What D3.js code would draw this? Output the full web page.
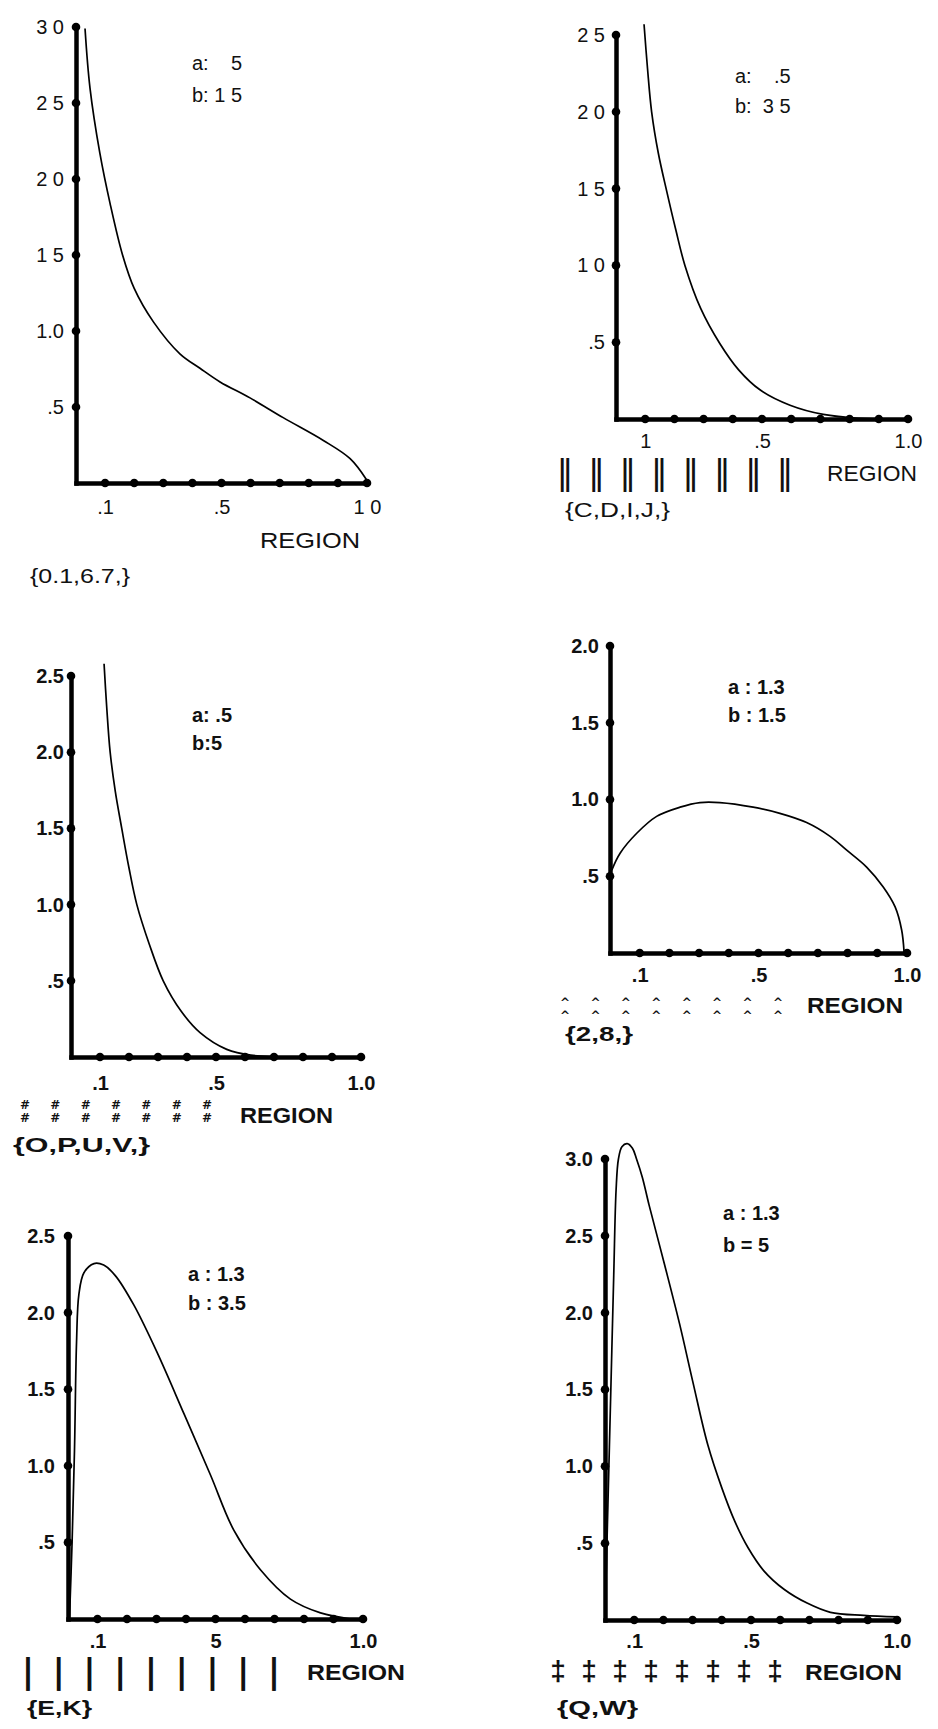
<!DOCTYPE html>
<html><head><meta charset="utf-8">
<script src="https://cdn.jsdelivr.net/npm/d3@7"></script>
<style>
html,body{margin:0;padding:0;background:#fff;}
svg{display:block;}
text{font-family:"Liberation Sans",Arial,Helvetica,sans-serif;fill:#111;white-space:pre;}
</style></head><body>
<svg id="chart" width="938" height="1729"></svg>
<script>
// ---------- data ----------
const dotValues = [0.1,0.2,0.3,0.4,0.5,0.6,0.7,0.8,0.9,1.0];
const xTickValues = [0.1,0.5,1.0];
const regionLabel = "REGION";

// panel 1 : a=.5 b=1.5
const params1 = ["a:    5","b: 1 5"];
const yTicks1 = [0.5,1.0,1.5,2.0,2.5,3.0];
const yLabels1 = [".5","1.0","1 5","2 0","2 5","3 0"];
const xLabels1 = [".1",".5","1 0"];
const set1 = "{0.1,6.7,}";
const curve1 = [[0.031,2.99],[0.048,2.60],[0.082,2.17],[0.117,1.84],[0.160,1.50],[0.200,1.28],[0.266,1.06],[0.357,0.85],[0.426,0.755],[0.495,0.665],[0.598,0.56],[0.712,0.43],[0.85,0.28],[0.942,0.16],[0.999,0.02]];

// panel 2 : a=.5 b=3.5
const params2 = ["a:    .5","b:  3 5"];
const yTicks2 = [0.5,1.0,1.5,2.0,2.5];
const yLabels2 = [".5","1 0","1 5","2 0","2 5"];
const xLabels2 = ["1",".5","1.0"];
const set2 = "{C,D,I,J,}";
const marker2 = "\u2016";
const curve2 = [[0.096,2.57],[0.108,2.28],[0.122,2.0],[0.145,1.73],[0.174,1.48],[0.205,1.23],[0.236,1.0],[0.29,0.72],[0.356,0.49],[0.42,0.32],[0.493,0.19],[0.596,0.09],[0.71,0.03],[0.83,0.005],[0.95,0.0]];

// panel 3 : a=.5 b=5
const params3 = ["a: .5","b:5"];
const yTicks3 = [0.5,1.0,1.5,2.0,2.5];
const yLabels3 = [".5","1.0","1.5","2.0","2.5"];
const xLabels3 = [".1",".5","1.0"];
const set3 = "{O,P,U,V,}";
const marker3 = "#";
const curve3 = [[0.114,2.58],[0.123,2.3],[0.135,2.0],[0.153,1.74],[0.175,1.5],[0.2,1.24],[0.227,1.0],[0.27,0.74],[0.318,0.5],[0.38,0.3],[0.445,0.16],[0.537,0.05],[0.62,0.012],[0.8,0.0],[0.95,0.0]];

// panel 4 : a=1.3 b=1.5
const params4 = ["a : 1.3","b : 1.5"];
const yTicks4 = [0.5,1.0,1.5,2.0];
const yLabels4 = [".5","1.0","1.5","2.0"];
const xLabels4 = [".1",".5","1.0"];
const set4 = "{2,8,}";
const marker4 = "^";
const curve4 = [[0.006,0.54],[0.034,0.65],[0.09,0.78],[0.157,0.89],[0.236,0.95],[0.303,0.98],[0.37,0.98],[0.482,0.95],[0.572,0.91],[0.662,0.85],[0.741,0.76],[0.797,0.67],[0.864,0.56],[0.92,0.43],[0.96,0.30],[0.982,0.15],[0.99,0.01]];

// panel 5 : a=1.3 b=3.5
const params5 = ["a : 1.3","b : 3.5"];
const yTicks5 = [0.5,1.0,1.5,2.0,2.5];
const yLabels5 = [".5","1.0","1.5","2.0","2.5"];
const xLabels5 = [".1","5","1.0"];
const set5 = "{E,K}";
const marker5 = "|";
const curve5 = [[0.005,0.0],[0.014,0.51],[0.022,1.10],[0.029,1.81],[0.037,2.12],[0.054,2.26],[0.088,2.32],[0.121,2.31],[0.161,2.24],[0.223,2.05],[0.302,1.74],[0.393,1.34],[0.483,0.94],[0.562,0.58],[0.653,0.32],[0.754,0.13],[0.856,0.04],[0.958,0.0]];

// panel 6 : a=1.3 b=5
const params6 = ["a : 1.3","b = 5"];
const yTicks6 = [0.5,1.0,1.5,2.0,2.5,3.0];
const yLabels6 = [".5","1.0","1.5","2.0","2.5","3.0"];
const xLabels6 = [".1",".5","1.0"];
const set6 = "{Q,W}";
const marker6 = "\u2021";
const curve6 = [[0.0,0.0],[0.01,0.75],[0.02,1.5],[0.03,2.25],[0.038,2.8],[0.046,3.0],[0.058,3.08],[0.076,3.10],[0.094,3.07],[0.108,3.0],[0.128,2.88],[0.151,2.70],[0.203,2.32],[0.255,1.93],[0.302,1.54],[0.352,1.14],[0.40,0.86],[0.445,0.64],[0.49,0.47],[0.544,0.32],[0.613,0.20],[0.692,0.11],[0.772,0.05],[0.886,0.03],[1.0,0.02]];

// ---------- layout ----------
const panels = [
 {curve:curve1,yTicks:yTicks1,yLabels:yLabels1,xLabels:xLabels1,params:params1,set:set1,
  x0:76,x1:367,y0:483,yTop:27,yMax:3.0,bold:false,yPad:12,xPad:17,
  ab:[192,63,95],region:[260,360,540],setPos:[30,130,576],marker:null},
 {curve:curve2,yTicks:yTicks2,yLabels:yLabels2,xLabels:xLabels2,params:params2,set:set2,
  x0:616,x1:908,y0:419,yTop:35,yMax:2.5,bold:false,yPad:11,xPad:15,
  ab:[735,76,106],region:[827,917,473],setPos:[565,670,510],
  marker:{glyph:marker2,n:8,from:565,to:785,rows:[473],size:34,dy:11,font:"DejaVu Sans",weight:"normal"}},
 {curve:curve3,yTicks:yTicks3,yLabels:yLabels3,xLabels:xLabels3,params:params3,set:set3,
  x0:71,x1:361,y0:1057,yTop:676,yMax:2.5,bold:true,yPad:7,xPad:19,
  ab:[192,715,743],region:[240,333,1115],setPos:[13,150,1145],
  marker:{glyph:marker3,n:7,from:25,to:207,rows:[1105,1118],size:12,dy:4,font:"DejaVu Sans",weight:"bold"}},
 {curve:curve4,yTicks:yTicks4,yLabels:yLabels4,xLabels:xLabels4,params:params4,set:set4,
  x0:610,x1:907,y0:953,yTop:646,yMax:2.0,bold:true,yPad:11,xPad:15,
  ab:[728,687,715],region:[807,903,1005],setPos:[565,633,1034],
  marker:{glyph:marker4,n:8,from:565,to:778,rows:[1000,1013],size:12,dy:7,font:"DejaVu Sans",weight:"bold"}},
 {curve:curve5,yTicks:yTicks5,yLabels:yLabels5,xLabels:xLabels5,params:params5,set:set5,
  x0:68,x1:363,y0:1619,yTop:1236,yMax:2.5,bold:true,yPad:13,xPad:15,
  ab:[188,1274,1303],region:[307,405,1672],setPos:[27,92,1708],
  marker:{glyph:marker5,n:9,from:28,to:274,rows:[1672],size:34,dy:11,font:"DejaVu Sans",weight:"bold"}},
 {curve:curve6,yTicks:yTicks6,yLabels:yLabels6,xLabels:xLabels6,params:params6,set:set6,
  x0:605,x1:897,y0:1620,yTop:1159,yMax:3.0,bold:true,yPad:12,xPad:14,
  ab:[723,1213,1245],region:[805,902,1672],setPos:[557,638,1708],
  marker:{glyph:marker6,n:8,from:558,to:775,rows:[1672],size:28,dy:8,font:"Liberation Sans",weight:"bold"}}
];

const svg = d3.select("#chart");
const FONT = '"Liberation Sans",Arial,Helvetica,sans-serif';

panels.forEach(p => {
  const g = svg.append("g");
  const x = d3.scaleLinear().domain([0,1]).range([p.x0,p.x1]);
  const y = d3.scaleLinear().domain([0,p.yMax]).range([p.y0,p.yTop]);
  const w = p.bold ? "bold" : "normal";

  // y axis
  const ya = g.append("g").attr("transform",`translate(${p.x0},0)`)
    .call(d3.axisLeft(y).tickValues(p.yTicks).tickFormat((d,i)=>p.yLabels[i])
      .tickSize(0).tickSizeOuter(0).tickPadding(p.yPad));
  ya.attr("font-family",FONT).attr("font-size",20).attr("font-weight",w);
  ya.select(".domain").attr("stroke","#000").attr("stroke-width",4.5).attr("stroke-linecap","square");
  ya.selectAll("text").attr("fill","#111").style("white-space","pre");

  // x axis
  const xa = g.append("g").attr("transform",`translate(0,${p.y0})`)
    .call(d3.axisBottom(x).tickValues(xTickValues).tickFormat((d,i)=>p.xLabels[i])
      .tickSize(0).tickSizeOuter(0).tickPadding(p.xPad));
  xa.attr("font-family",FONT).attr("font-size",20).attr("font-weight",w);
  xa.select(".domain").attr("stroke","#000").attr("stroke-width",4.5).attr("stroke-linecap","square");
  xa.selectAll("text").attr("fill","#111");

  // dots
  g.selectAll(".xd").data(dotValues).join("circle")
    .attr("cx",d=>x(d)).attr("cy",p.y0).attr("r",4.3).attr("fill","#000");
  g.selectAll(".yd").data(p.yTicks).join("circle")
    .attr("cx",p.x0).attr("cy",d=>y(d)).attr("r",4.3).attr("fill","#000");

  // curve
  const line = d3.line().x(d=>x(d[0])).y(d=>y(d[1])).curve(d3.curveCatmullRom.alpha(0.5));
  g.append("path").datum(p.curve).attr("d",line)
    .attr("fill","none").attr("stroke","#000").attr("stroke-width",1.7);

  // parameter labels
  g.append("text").attr("x",p.ab[0]).attr("y",p.ab[1]).attr("dy","0.35em")
    .attr("font-size",20).attr("font-weight",w).text(p.params[0]);
  g.append("text").attr("x",p.ab[0]).attr("y",p.ab[2]).attr("dy","0.35em")
    .attr("font-size",20).attr("font-weight",w).text(p.params[1]);

  // REGION
  g.append("text").attr("x",p.region[0]).attr("y",p.region[2]).attr("dy","0.36em")
    .attr("font-size",22).attr("font-weight",w)
    .attr("textLength",p.region[1]-p.region[0]).attr("lengthAdjust","spacingAndGlyphs")
    .text(regionLabel);

  // set label
  g.append("text").attr("x",p.setPos[0]).attr("y",p.setPos[2]).attr("dy","0.36em")
    .attr("font-size",20).attr("font-weight",w)
    .attr("textLength",p.setPos[1]-p.setPos[0]).attr("lengthAdjust","spacingAndGlyphs")
    .text(p.set);

  // marker glyph row (stacked rows drawn as tspans of one text)
  if (p.marker) {
    const m = p.marker;
    const mx = d3.scalePoint().domain(d3.range(m.n)).range([m.from,m.to]);
    const t = g.append("g").selectAll("text").data(d3.range(m.n)).join("text")
      .attr("x",d=>mx(d)).attr("y",m.rows[0]+m.dy).attr("text-anchor","middle")
      .attr("font-size",m.size).attr("font-weight",m.weight)
      .style("font-family",m.font);
    t.each(function(d){
      const el = d3.select(this);
      m.rows.forEach((ry,i) => {
        el.append("tspan").attr("x",mx(d))
          .attr("dy", i===0 ? 0 : (ry - m.rows[i-1]))
          .text(m.glyph);
      });
    });
  }
});
</script>
</body></html>
